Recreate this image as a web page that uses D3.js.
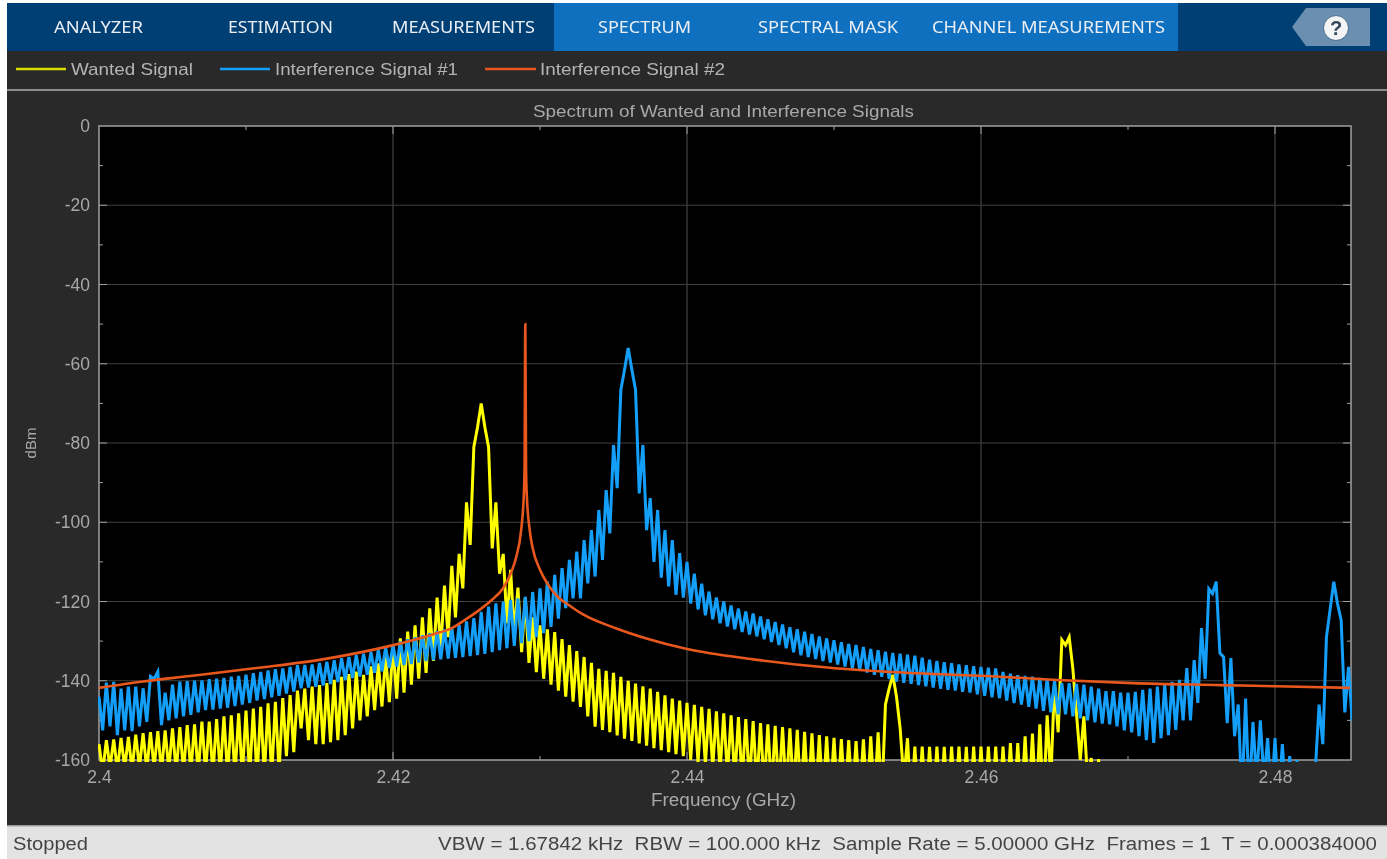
<!DOCTYPE html>
<html><head><meta charset="utf-8">
<style>
html,body{margin:0;padding:0;background:#fff;overflow:hidden}
svg{display:block;filter:blur(0.45px)}
text{font-family:"Liberation Sans",Arial,sans-serif}
.tab{font-family:"Noto Sans",sans-serif;font-size:15.5px;fill:#e8eef4}
</style>
<script src="https://cdn.jsdelivr.net/npm/d3@7/dist/d3.min.js"></script>
</head><body><div id="chart"></div>
<script>
// ---- data ----
const title = "Spectrum of Wanted and Interference Signals";
const xLabel = "Frequency (GHz)";
const yLabel = "dBm";
const xMajorTicks = [2.4, 2.42, 2.44, 2.46, 2.48];
const xMinorTicks = [2.41, 2.43, 2.45, 2.47];
const yMajorTicks = [0, -20, -40, -60, -80, -100, -120, -140, -160];
const yMinorTicks = [-10, -30, -50, -70, -90, -110, -130, -150];
const seriesNames = ["Wanted Signal", "Interference Signal #1", "Interference Signal #2"];
const tabNames = ["ANALYZER", "ESTIMATION", "MEASUREMENTS", "SPECTRUM", "SPECTRAL MASK", "CHANNEL MEASUREMENTS"];
const statusLeft = "Stopped";
const statusRight = "VBW = 1.67842 kHz  RBW = 100.000 kHz  Sample Rate = 5.00000 GHz  Frames = 1  T = 0.000384000";

const binStartGHz = 2.4, binStepGHz = 0.00025;   // spectrum bins; combs peak every second bin

// Wanted signal, dBm per bin (20 values per row)
const wantedDbm = [
-156,-163,-155,-162,-154.8,-162.5,-154.4,-162,-154.2,-162.5,-153.6,-162,-153.2,-162.5,-153,-162,-152.7,-163,-152.5,-162.5,
-152,-163,-151.7,-163,-151.2,-163,-151,-163.5,-150.3,-163,-150.3,-163.5,-149.7,-163.5,-149,-164,-148.7,-164,-148.2,-164,
-147.5,-164,-147,-164.5,-146.6,-164,-145.7,-164,-145.3,-163,-144.4,-159,-143.6,-158,-142.5,-152,-142,-155,-141.5,-156,
-141.1,-156,-140.6,-155.5,-139.8,-155,-139,-153.7,-138.3,-152,-137.7,-150,-138.5,-149,-136.4,-147.4,-135.6,-146.5,-134,-145.4,
-131,-144.5,-129.3,-143,-127.6,-141,-126,-139.5,-124,-138,-121.7,-135,-119,-132,-116,-129,-111,-124,-108,-116.7,
-95,-105.7,-81,-76,-70,-76,-81,-106.6,-95,-113,-108,-125.5,-112,-128,-116.5,-132.8,-119,-135.5,-124,-137.8,
-126,-139.5,-127,-141,-127.7,-142.5,-129.5,-144,-131,-145.3,-132.5,-146.6,-134,-149,-135.5,-151.6,-137,-152.4,-137.5,-153,
-138,-153.8,-139,-154.6,-140,-155.2,-140.7,-155.8,-141.4,-156.4,-142,-157,-142.8,-157.5,-143.7,-158,-144.5,-158.5,-145,-159,
-145.6,-160,-146.1,-160.5,-146.6,-161,-147.1,-162,-147.7,-163,-148.2,-164,-148.7,-165,-149.2,-165.5,-149.7,-166,-150.2,-166.5,
-150.7,-167,-151,-168,-151.4,-168,-151.7,-168,-152,-168,-152.4,-170,-152.9,-170,-153.3,-170,-153.7,-170,-154,-170,
-154.4,-170,-154.7,-170,-155,-170,-155.2,-170,-154.8,-170,-154,-170,-153,-170,-146,-142,-138.5,-144,-152,-165,-154.5,-172,
-156.6,-172,-156.6,-172,-156.7,-172,-156.6,-172,-156.7,-172,-156.6,-172,-156.6,-172,-156.7,-172,-156.6,-172,-156.6,-172,
-156.6,-172,-156.6,-172,-156.6,-172,-155.7,-172,-155.7,-172,-154,-172,-153.3,-172,-151,-172,-148.7,-165,-140.7,-153,
-129.7,-131,-129,-137,-148.5,-160,-149,-165,-159.5,-172,-159.8,-176,-162,-176
];

// Interference signal #1, dBm per bin (20 values per row)
const interference1Dbm = [
-144,-152.5,-140.5,-151.5,-140.3,-153.7,-142,-152.5,-141.5,-152.7,-141.5,-151.5,-141.9,-150.4,-138.9,-139.5,-137.7,-151.2,-143,-150,
-141,-149.5,-140.2,-149,-140.1,-148.6,-140,-148,-139.9,-147.4,-139.6,-147.3,-139.5,-147,-139.3,-146.8,-139,-146.4,-138.8,-146,
-138.5,-145.6,-138.1,-145,-137.8,-144.6,-137.4,-144.2,-137.1,-143.8,-136.9,-143.2,-136.5,-142.7,-136.1,-141.9,-136,-141.7,-135.9,-141.5,
-135.5,-141.2,-135.2,-140.8,-134.8,-140.3,-134.3,-139.8,-134,-139.3,-133.5,-138.9,-133.2,-138.5,-132.7,-138,-132.2,-137.6,-131.6,-136.8,
-131,-136.4,-130.1,-136,-129.5,-135.8,-129,-135.4,-128.5,-135,-128,-134.8,-127.5,-134.6,-127,-134.4,-126.5,-134.2,-126,-134,
-125,-133.8,-124.2,-133.5,-122.6,-133.2,-121.3,-132.8,-120.5,-132.3,-120,-131.8,-119.6,-131.2,-119.2,-130.5,-118.8,-130,-117.6,-129,
-116.7,-128,-115,-126.4,-113.3,-124.3,-111.6,-121.7,-109.5,-119.2,-107.4,-119.2,-104.5,-115.4,-102,-113.7,-96.9,-109.5,-91.9,-102.8,
-80.5,-91.4,-66.6,-61.5,-56,-61.5,-66.6,-92.7,-80.5,-102,-93.9,-110,-96.9,-114,-102,-116.2,-104.5,-118.3,-107.8,-119,
-110,-120.5,-113,-122,-115.5,-123.5,-117.5,-124.5,-119,-125.5,-120,-126.3,-121,-127,-121.8,-127.7,-122.5,-128.3,-123,-128.8,
-123.8,-129.5,-124.5,-130.2,-125.2,-131,-125.8,-131.8,-126.5,-132.8,-127,-133.6,-127.6,-134,-128.2,-134.5,-128.8,-135,-129.3,-135.4,
-129.8,-135.9,-130.3,-136.4,-130.7,-136.9,-131,-137.4,-131.5,-137.9,-132,-138.5,-132.3,-139,-132.7,-139.6,-133,-140.2,-133.2,-140.5,
-133.4,-140.8,-133.7,-141.1,-134.2,-141.4,-134.7,-141.7,-135,-142,-135.3,-142.3,-135.6,-142.5,-135.9,-142.8,-136.1,-143,-136.3,-143.4,
-136.5,-143.8,-136.7,-144.2,-136.9,-144.4,-137.8,-145,-138.2,-145.6,-138.6,-146,-138.8,-146.6,-139,-147,-139.3,-147.6,-139.6,-148,
-140,-148.5,-140.6,-148.5,-140.6,-149,-140.8,-149.5,-141,-150,-141.5,-150.5,-142,-150.8,-142.6,-151,-142.6,-151.5,-143,-152.5,
-143,-153,-142.8,-154,-142.3,-155,-142,-155.7,-141.5,-154.5,-141,-153.7,-140.3,-152.4,-139.8,-150,-136.8,-150,-134.8,-145.6,
-126.7,-139.5,-116.8,-118,-115,-133,-134,-150.7,-134.3,-154,-146,-170,-144.5,-170,-150.4,-165,-150,-165,-154.5,-170,
-154.5,-170,-156,-170,-159,-170,-160,-172,-165,-172,-172,-162,-146,-156,-129,-122,-115,-120.5,-124.7,-148,
-136.5,-150
];

// Interference signal #2: a smooth tone, read at these frequencies
const toneFreqGHz = [2.4,2.403,2.4062,2.4107,2.4152,2.4198,2.4227,2.424,2.425,2.426,2.4266,2.4275,2.428,2.4284,2.4287,2.4289,2.42895,2.429,2.42905,2.4291,2.4293,2.4295,2.43,2.4305,2.4312,2.432,2.4329,2.4352,2.4373,2.44,2.4445,2.4499,2.4539,2.4613,2.4652,2.4703,2.4763,2.4801,2.4851];
const toneDbm = [-141.8,-140.2,-138.8,-136.8,-134.6,-131.2,-128.3,-126.7,-124.4,-121.8,-120,-116.6,-113,-108.5,-102.5,-93,-86,-50,-86,-93,-102,-106.5,-112,-115.5,-118.8,-121,-123.2,-126.8,-129.4,-132,-134.6,-136.8,-137.8,-139,-139.8,-140.6,-141.1,-141.4,-141.8];

// ---- drawing ----
const W = 1387, H = 859;
const svg = d3.select("#chart").append("svg").attr("width", W).attr("height", H);
const colors = ["#ffff00", "#14a0fa", "#e8581c"];
const P = {l: 99, r: 1351, t: 126, b: 760};
const x = d3.scaleLinear().domain([2.4, 2.4 + (P.r - P.l) / 14700]).range([P.l, P.r]);
const y = d3.scaleLinear().domain([-160, 0]).range([P.b, P.t]);

// panels
const rect = (a, b, c, d, f) => svg.append("rect").attr("x", a).attr("y", b).attr("width", c - a).attr("height", d - b).attr("fill", f);
rect(0, 0, W, H, "#ffffff");
rect(7, 3, W, 826, "#292929");
rect(7, 3, W, 51, "#003f73");
rect(554, 3, 1178, 51, "#1070c0");
rect(7, 89, W, 91, "#8c8c8c");
rect(7, 825, W, 859, "#e3e3e3");
rect(7, 825, W, 826.5, "#9a9a9a");

// tabs
const tabSpans = [[54, 143], [228, 333], [392, 535], [598, 691], [758, 898], [932, 1165]];
svg.selectAll(".tab").data(tabNames).join("text").attr("class", "tab")
  .attr("x", (d, i) => tabSpans[i][0]).attr("y", 33)
  .attr("textLength", (d, i) => tabSpans[i][1] - tabSpans[i][0]).attr("lengthAdjust", "spacingAndGlyphs")
  .text(d => d);

// help button
svg.append("path").attr("d", d3.line()([[1306, 8], [1370, 8], [1370, 46], [1306, 46], [1292, 27]]) + "Z").attr("fill", "#6b8fb0");
svg.append("circle").attr("cx", 1336).attr("cy", 28).attr("r", 12.5).attr("fill", "#f2f4f6").attr("stroke", "#4a6a88");
svg.append("text").attr("x", 1336).attr("y", 35).attr("text-anchor", "middle").attr("font-size", 20).attr("font-weight", "bold").attr("fill", "#33475a").text("?");

// legend
const legendSpans = [[16, 66, 71, 193], [220, 270, 275, 458], [485, 536, 540, 725]];
seriesNames.forEach((n, i) => {
  const s = legendSpans[i];
  svg.append("line").attr("x1", s[0]).attr("x2", s[1]).attr("y1", 69).attr("y2", 69).attr("stroke", i === 0 ? "#dcdc00" : colors[i]).attr("stroke-width", 2.4);
  svg.append("text").attr("x", s[2]).attr("y", 75).attr("font-size", 17).attr("fill", "#b4b4b4")
    .attr("textLength", s[3] - s[2]).attr("lengthAdjust", "spacingAndGlyphs").text(n);
});

// title and axis labels
svg.append("text").attr("x", 723.5).attr("y", 117).attr("text-anchor", "middle").attr("font-size", 17).attr("fill", "#a8a8a8")
  .attr("textLength", 381).attr("lengthAdjust", "spacingAndGlyphs").text(title);
svg.append("text").attr("x", 723.5).attr("y", 806).attr("text-anchor", "middle").attr("font-size", 17.5).attr("fill", "#a8a8a8")
  .attr("textLength", 145).attr("lengthAdjust", "spacingAndGlyphs").text(xLabel);
svg.append("text").attr("transform", "translate(36,443) rotate(-90)").attr("text-anchor", "middle").attr("font-size", 15).attr("fill", "#a8a8a8").text(yLabel);

// plot area and grid
rect(P.l, P.t, P.r, P.b, "#000000");
svg.append("g").selectAll("line").data(xMajorTicks.slice(1)).join("line")
  .attr("x1", d => x(d)).attr("x2", d => x(d)).attr("y1", P.t).attr("y2", P.b).attr("stroke", "#505050").attr("stroke-width", 1);
svg.append("g").selectAll("line").data(yMajorTicks.slice(1, -1)).join("line")
  .attr("x1", P.l).attr("x2", P.r).attr("y1", d => y(d)).attr("y2", d => y(d)).attr("stroke", "#3f3f3f").attr("stroke-width", 1);

const clipId = "plotClip";
svg.append("clipPath").attr("id", clipId).append("rect").attr("x", P.l - 1).attr("y", P.t).attr("width", P.r - P.l + 2).attr("height", P.b - P.t + 2);
const axisColor = "#a0a0a0";

// axes (labels outside, inward ticks)
const xAxis = d3.axisBottom(x).tickValues(xMajorTicks).tickFormat(d => String(d)).tickSize(0).tickPadding(11);
const yAxis = d3.axisLeft(y).tickValues(yMajorTicks).tickFormat(d => String(d)).tickSize(0).tickPadding(9);
const gx = svg.append("g").attr("transform", `translate(0,${P.b})`).call(xAxis);
const gy = svg.append("g").attr("transform", `translate(${P.l},0)`).call(yAxis);
[gx, gy].forEach(g => {
  g.select(".domain").remove();
  g.selectAll("text").attr("fill", "#a8a8a8").attr("font-size", 17.5).attr("font-family", '"Liberation Sans",Arial,sans-serif');
});
const inTicks = svg.append("g").attr("stroke", "#a0a0a0").attr("stroke-width", 1);
[[xMajorTicks.slice(1), 8], [xMinorTicks, 4]].forEach(([v, len]) => v.forEach(d => {
  inTicks.append("line").attr("x1", x(d)).attr("x2", x(d)).attr("y1", P.t).attr("y2", P.t + len);
  inTicks.append("line").attr("x1", x(d)).attr("x2", x(d)).attr("y1", P.b).attr("y2", P.b - len);
}));
[[yMajorTicks.slice(1, -1), 8], [yMinorTicks, 4]].forEach(([v, len]) => v.forEach(d => {
  inTicks.append("line").attr("y1", y(d)).attr("y2", y(d)).attr("x1", P.l).attr("x2", P.l + len);
  inTicks.append("line").attr("y1", y(d)).attr("y2", y(d)).attr("x1", P.r).attr("x2", P.r - len);
}));
svg.append("rect").attr("x", P.l).attr("y", P.t).attr("width", P.r - P.l).attr("height", P.b - P.t)
  .attr("fill", "none").attr("stroke", axisColor).attr("stroke-width", 1.5);

const binFreq = i => binStartGHz + i * binStepGHz;
const comb = d3.line().x((d, i) => x(binFreq(i))).y(d => y(d));
const tone = d3.line().x((d, i) => x(toneFreqGHz[i])).y(d => y(d)).curve(d3.curveMonotoneX);
const plot = svg.append("g").attr("clip-path", `url(#${clipId})`).attr("fill", "none").attr("stroke-linejoin", "miter").attr("stroke-miterlimit", 4);
plot.append("path").attr("d", comb(wantedDbm)).attr("stroke", colors[0]).attr("stroke-width", 3);
plot.append("path").attr("d", comb(interference1Dbm)).attr("stroke", colors[1]).attr("stroke-width", 3);
plot.append("path").attr("d", tone(toneDbm)).attr("stroke", colors[2]).attr("stroke-width", 2.6);

// status bar
svg.append("text").attr("x", 13).attr("y", 850).attr("font-size", 18).attr("fill", "#444")
  .attr("textLength", 75).attr("lengthAdjust", "spacingAndGlyphs").text(statusLeft);
svg.append("text").attr("x", 1377).attr("y", 850).attr("text-anchor", "end").attr("font-size", 18).attr("fill", "#444")
  .style("white-space", "pre").attr("textLength", 939).attr("lengthAdjust", "spacingAndGlyphs").text(statusRight);
</script></body></html>
